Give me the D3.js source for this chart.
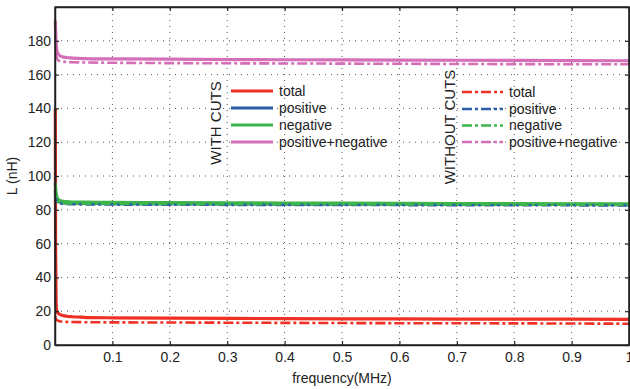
<!DOCTYPE html>
<html>
<head>
<meta charset="utf-8">
<script src="https://cdn.jsdelivr.net/npm/d3@7"></script>
<style>
  body { margin: 0; background: #fff; }
  svg { display: block; font-family: "Liberation Sans", Arial, sans-serif; }
  .tick text { font-size: 14px; fill: #222; }
</style>
</head>
<body>
<svg id="chart" width="630" height="389"></svg>
<script>
(function() {

// ---------- data ----------
const freq = [0.0005, 0.001, 0.002, 0.003, 0.005, 0.008, 0.012, 0.02, 0.03, 0.05, 0.1, 0.2, 0.4, 0.6, 0.8, 1.0];

// with cuts
const totalCut   = [140, 60, 24, 20.5, 19, 18.2, 17.6, 17.0, 16.7, 16.4, 16.1, 15.9, 15.6, 15.4, 15.3, 15.2];
const posCut     = [92, 89, 87, 86, 85, 84.6, 84.3, 84.0, 83.9, 83.8, 83.7, 83.6, 83.4, 83.3, 83.2, 83.1];
const negCut     = [96, 93, 90, 88, 86.5, 85.6, 85.1, 84.8, 84.6, 84.5, 84.4, 84.2, 84.0, 83.8, 83.6, 83.5];
const posNegCut  = [192, 186, 178, 175, 172.5, 171.3, 170.6, 170.1, 169.8, 169.5, 169.3, 169.1, 168.8, 168.6, 168.4, 168.2];

// without cuts
const totalNo    = [17, 16, 15.2, 14.8, 14.4, 14.1, 13.9, 13.7, 13.6, 13.5, 13.4, 13.3, 13.1, 12.9, 12.8, 12.6];
const posNo      = [90, 88, 86, 85, 84.2, 83.8, 83.6, 83.4, 83.3, 83.2, 83.1, 83.0, 82.9, 82.8, 82.7, 82.6];
const negNo      = [93, 90, 87.5, 86, 85, 84.4, 84.1, 83.8, 83.7, 83.6, 83.5, 83.4, 83.3, 83.2, 83.1, 83.0];
const posNegNo   = [184, 178, 172, 170, 168.7, 168.0, 167.7, 167.5, 167.3, 167.2, 167.0, 166.8, 166.6, 166.4, 166.2, 166.1];

const seriesNames = ["total", "positive", "negative", "positive+negative"];
const seriesColors = ["#ee3124", "#2b5fab", "#3db54a", "#d46fb8"];
const withCuts = [totalCut, posCut, negCut, posNegCut];
const withoutCuts = [totalNo, posNo, negNo, posNegNo];

const xTicks = [0.1, 0.2, 0.3, 0.4, 0.5, 0.6, 0.7, 0.8, 0.9, 1];
const yTicks = [0, 20, 40, 60, 80, 100, 120, 140, 160, 180];

// ---------- layout ----------
const width = 630, height = 389;
const margin = { top: 7, right: 1, bottom: 44, left: 55 };

const svg = d3.select("#chart");

const x = d3.scaleLinear().domain([0, 1]).range([margin.left, width - margin.right]);
const y = d3.scaleLinear().domain([0, 200]).range([height - margin.bottom, margin.top]);

// grid
const grid = svg.append("g").attr("stroke", "#555").attr("stroke-width", 1)
  .attr("stroke-dasharray", "1,5");
grid.selectAll("line.gx").data(xTicks.filter(d => d < 1)).join("line")
  .attr("x1", d => x(d)).attr("x2", d => x(d))
  .attr("y1", y(0)).attr("y2", y(200));
grid.selectAll("line.gy").data(yTicks.filter(d => d > 0)).join("line")
  .attr("class", "gy")
  .attr("x1", x(0)).attr("x2", x(1))
  .attr("y1", d => y(d)).attr("y2", d => y(d));

// lines
const line = d3.line().curve(d3.curveMonotoneX);

function drawSet(sets, dash) {
  sets.forEach((vals, i) => {
    svg.append("path")
      .datum(freq.map((f, j) => [x(f), y(vals[j])]))
      .attr("d", line)
      .attr("fill", "none")
      .attr("stroke", seriesColors[i])
      .attr("stroke-width", dash ? 2.6 : 3.2)
      .attr("stroke-dasharray", dash ? "10,3,3,3" : null);
  });
}
drawSet(withCuts, false);
drawSet(withoutCuts, true);

// axes (ticks inside, box all round)
const xAxis = d3.axisBottom(x).tickValues(xTicks).tickSizeInner(-4).tickSizeOuter(0)
  .tickPadding(7).tickFormat(d3.format("~g"));
const yAxis = d3.axisLeft(y).tickValues(yTicks).tickSizeInner(-4).tickSizeOuter(0)
  .tickPadding(4);

svg.append("g").attr("transform", `translate(0,${y(0)})`).call(xAxis);
svg.append("g").attr("transform", `translate(${x(0)},0)`).call(yAxis);
svg.append("g").attr("transform", `translate(0,${y(200)})`)
  .call(d3.axisTop(x).tickValues(xTicks).tickSizeInner(-4).tickSizeOuter(0).tickFormat(""));
svg.append("g").attr("transform", `translate(${x(1)},0)`)
  .call(d3.axisRight(y).tickValues(yTicks.concat([200])).tickSizeInner(-4).tickSizeOuter(0).tickFormat(""));

svg.selectAll(".domain").attr("stroke", "#222").attr("stroke-width", 1.5);
svg.selectAll(".tick line").attr("stroke", "#222").attr("stroke-width", 1.2);

// frame
svg.append("rect")
  .attr("x", x(0)).attr("y", y(200))
  .attr("width", x(1) - x(0)).attr("height", y(0) - y(200))
  .attr("fill", "none").attr("stroke", "#222").attr("stroke-width", 1.5);

// axis labels
svg.append("text").attr("x", (x(0) + x(1)) / 2).attr("y", 383)
  .attr("text-anchor", "middle").attr("font-size", 14).attr("fill", "#222")
  .text("frequency(MHz)");
svg.append("text")
  .attr("transform", `translate(17,${(y(0) + y(200)) / 2}) rotate(-90)`)
  .attr("text-anchor", "middle").attr("font-size", 14).attr("fill", "#222")
  .text("L (nH)");

// legends
function legend(title, titleX, titleY, lineX0, lineX1, rowY, dash) {
  svg.append("text")
    .attr("transform", `translate(${titleX},${titleY}) rotate(-90)`)
    .attr("text-anchor", "middle").attr("font-size", 15).attr("fill", "#222")
    .text(title);
  seriesNames.forEach((name, i) => {
    const yy = rowY[i];
    svg.append("line")
      .attr("x1", lineX0).attr("x2", lineX1).attr("y1", yy).attr("y2", yy)
      .attr("stroke", seriesColors[i]).attr("stroke-width", dash ? 2.6 : 3.2)
      .attr("stroke-dasharray", dash ? "10,3,3,3" : null);
    svg.append("text").attr("x", lineX1 + 6).attr("y", yy).attr("dy", "0.35em")
      .attr("font-size", 14).attr("fill", "#222").text(name);
  });
}
legend("WITH CUTS", 221, 123, 231, 273, [91, 108, 125, 142], false);
legend("WITHOUT CUTS", 455, 127, 462, 503, [92, 109, 125.5, 142], true);

})();
</script>
</body>
</html>
